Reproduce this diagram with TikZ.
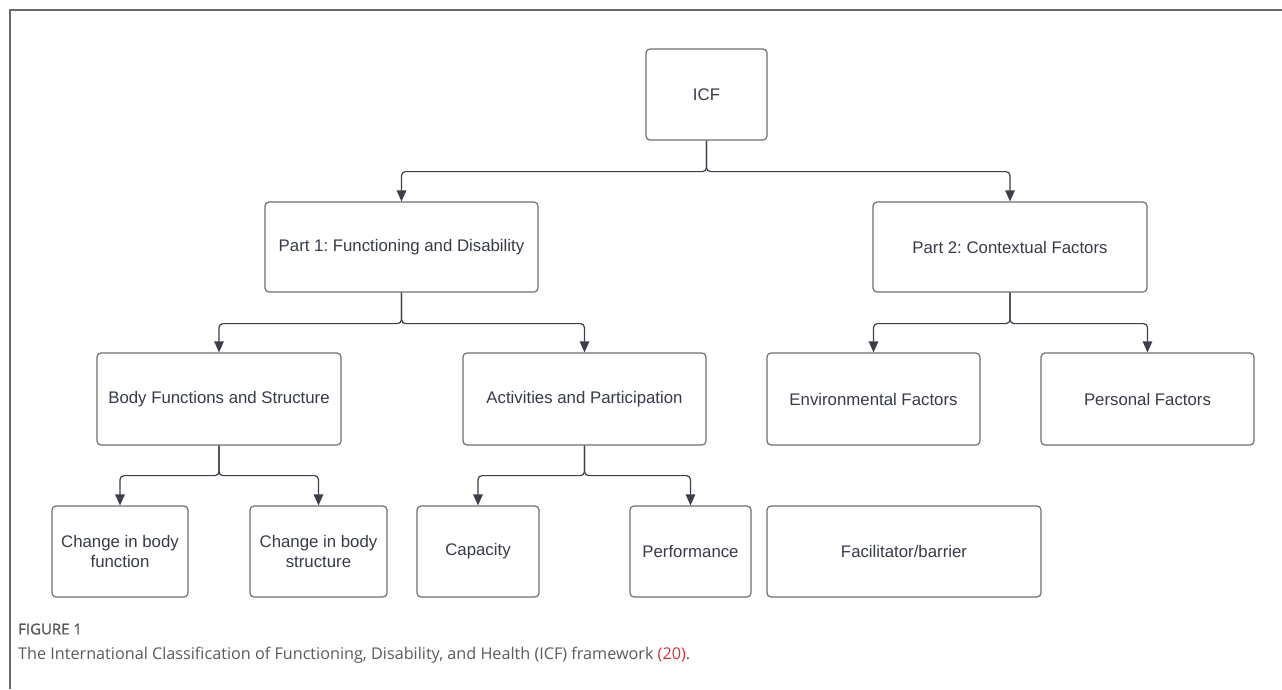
\documentclass[tikz,border=0pt]{standalone}
\usepackage{fontspec}
\setmainfont{Liberation Sans}
\newfontfamily\capfont{Open Sans}
\newfontfamily\capsemi[FakeBold=1.3]{Open Sans}
\usetikzlibrary{arrows.meta}
\frenchspacing
\definecolor{boxline}{HTML}{6E6E6E}
\definecolor{connline}{HTML}{3A3F4A}
\definecolor{txt}{HTML}{363B47}
\definecolor{capgray}{HTML}{5A5A5A}
\definecolor{capred}{HTML}{D6303A}
\definecolor{frame}{HTML}{6A6A6A}
\tikzset{
  box/.style={draw=boxline, line width=1.2pt, rounded corners=4pt, align=center,
    text=txt, font=\fontsize{16.8}{20.5}\selectfont, inner sep=0pt},
  conn/.style={draw=connline, line width=1.2pt, rounded corners=4pt,
    -{Triangle[length=11pt,width=9.5pt]}},
}
\begin{document}
\begin{tikzpicture}[x=1pt,y=-1pt]
\useasboundingbox (0,0) rectangle (1282,689);
\draw[frame, line width=1.6pt] (10,689) -- (10,10) -- (1282,10);

\node[box, minimum width=121pt, minimum height=91pt] (icf) at (706.5,94.5) {ICF};
\node[box, minimum width=273pt, minimum height=90pt] (p1) at (401.5,247) {Part 1: Functioning and Disability};
\node[box, minimum width=274pt, minimum height=90pt] (p2) at (1010,247) {Part 2: Contextual Factors};
\node[box, minimum width=244pt, minimum height=92pt] (body) at (219,399) {Body Functions and Structure};
\node[box, minimum width=243pt, minimum height=92pt] (act) at (584.5,399) {Activities and Participation};
\node[box, minimum width=213pt, minimum height=92pt] (env) at (873.5,399) {Environmental Factors};
\node[box, minimum width=213pt, minimum height=92pt] (pers) at (1147.5,399) {Personal Factors};
\node[box, minimum width=136pt, minimum height=91pt] (cfn) at (120,551.5) {Change in body\\function};
\node[box, minimum width=137pt, minimum height=91pt] (cst) at (318.5,551.5) {Change in body\\structure};
\node[box, minimum width=122pt, minimum height=91pt] (cap) at (478,551.5) {Capacity};
\node[box, minimum width=121pt, minimum height=91pt] (perf) at (690.5,551.5) {Performance};
\node[box, minimum width=274pt, minimum height=91pt] (fac) at (904,551.5) {Facilitator/barrier};

\draw[conn] (icf.south) -- ++(0,31) -| (p1.north);
\draw[conn] (icf.south) -- ++(0,31) -| (p2.north);
\draw[conn] (p1.south) -- ++(0,31) -| (body.north);
\draw[conn] (p1.south) -- ++(0,31) -| (act.north);
\draw[conn] (p2.south) -- ++(0,31) -| (env.north);
\draw[conn] (p2.south) -- ++(0,31) -| (pers.north);
\draw[conn] (body.south) -- ++(0,30) -| (cfn.north);
\draw[conn] (body.south) -- ++(0,30) -| (cst.north);
\draw[conn] (act.south) -- ++(0,30) -| (cap.north);
\draw[conn] (act.south) -- ++(0,30) -| (perf.north);

\node[anchor=west, inner sep=0pt, text=capgray, font=\capsemi\fontsize{15}{18}\selectfont] (figlab) at (18,629) {FIGURE 1};
\node[anchor=west, inner sep=0pt, text=capgray, font=\capfont\fontsize{16.2}{20}\selectfont] (caption) at (18,655) {The International Classification of Functioning, Disability, and Health (ICF) framework \textcolor{capred}{(20)}.};
\end{tikzpicture}
\end{document}
